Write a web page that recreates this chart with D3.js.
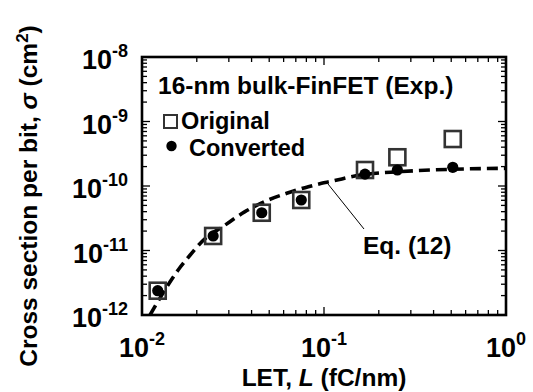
<!DOCTYPE html>
<html>
<head>
<meta charset="utf-8">
<script src="https://cdn.jsdelivr.net/npm/d3@7"></script>
<style>
  html, body { margin: 0; padding: 0; background: #fff; }
  text { font-family: "Liberation Sans", Arial, Helvetica, sans-serif; font-weight: bold; fill: #000; }
</style>
</head>
<body>
<svg id="chart" width="533" height="392"></svg>
<script>
// Measured LET (fC/nm) and cross sections per bit (cm^2)
const letValues      = [0.0122, 0.0246, 0.0455, 0.075, 0.168, 0.253, 0.51];
const originalSigma  = [2.38e-12, 1.68e-11, 3.85e-11, 6.07e-11, 1.77e-10, 2.79e-10, 5.35e-10];
const convertedSigma = [2.38e-12, 1.68e-11, 3.85e-11, 6.07e-11, 1.53e-10, 1.77e-10, 1.95e-10];

// Eq. (12) model curve, sampled
const eqLet   = [0.01107, 0.0139, 0.0158, 0.0184, 0.0213, 0.0286, 0.0368, 0.0494, 0.0624, 0.082, 0.097, 0.108, 0.158, 0.262, 0.514, 1];
const eqSigma = [1e-12, 2.92e-12, 4.99e-12, 8.51e-12, 1.37e-11, 2.48e-11, 4.0e-11, 6.07e-11, 7.7e-11, 9.75e-11, 1.10e-10, 1.17e-10, 1.48e-10, 1.67e-10, 1.82e-10, 1.88e-10];

// Axis tick labels (base, exponent)
const xTickValues = [1e-2, 1e-1, 1];
const xTickExps   = ["-2", "-1", "0"];
const yTickValues = [1e-12, 1e-11, 1e-10, 1e-9, 1e-8];
const yTickExps   = ["-12", "-11", "-10", "-9", "-8"];

const legendTitle = "16-nm bulk-FinFET (Exp.)";
const legendLabels = ["Original", "Converted"];
const eqLabel = "Eq. (12)";

const plot = { left: 142, right: 506, top: 57, bottom: 315 };

const svg = d3.select("#chart");
const x = d3.scaleLog().domain([1e-2, 1]).range([plot.left, plot.right]);
const y = d3.scaleLog().domain([1e-12, 1e-8]).range([plot.bottom, plot.top]);

// minor ticks for log axes
function logTicks(domain) {
  const out = [];
  const e0 = Math.round(Math.log10(domain[0])), e1 = Math.round(Math.log10(domain[1]));
  for (let e = e0; e < e1; e++) for (let m = 2; m <= 9; m++) out.push(m * Math.pow(10, e));
  return out;
}
const xMinor = logTicks(x.domain()), yMinor = logTicks(y.domain());

const majorLen = 8, minorLen = 5;
const ticks = svg.append("g").attr("stroke", "#000").attr("stroke-width", 1.3);
function vTicks(vals, len) {
  vals.forEach(v => {
    const px = x(v);
    ticks.append("line").attr("x1", px).attr("x2", px).attr("y1", plot.bottom).attr("y2", plot.bottom - len);
    ticks.append("line").attr("x1", px).attr("x2", px).attr("y1", plot.top).attr("y2", plot.top + len);
  });
}
function hTicks(vals, len) {
  vals.forEach(v => {
    const py = y(v);
    ticks.append("line").attr("y1", py).attr("y2", py).attr("x1", plot.left).attr("x2", plot.left + len);
    ticks.append("line").attr("y1", py).attr("y2", py).attr("x1", plot.right).attr("x2", plot.right - len);
  });
}
vTicks(xTickValues, majorLen); vTicks(xMinor, minorLen);
hTicks(yTickValues, majorLen); hTicks(yMinor, minorLen);

// Eq. (12) dashed curve
svg.append("clipPath").attr("id", "plotClip").append("rect")
  .attr("x", plot.left).attr("y", plot.top).attr("width", plot.right - plot.left).attr("height", plot.bottom - plot.top);
const line = d3.line().x(d => x(d[0])).y(d => y(d[1])).curve(d3.curveMonotoneX);
svg.append("path")
  .datum(eqLet.map((l, i) => [l, eqSigma[i]]))
  .attr("clip-path", "url(#plotClip)")
  .attr("d", line)
  .attr("fill", "none").attr("stroke", "#000").attr("stroke-width", 3.6)
  .attr("stroke-dasharray", "11,6");

// Original (open squares)
const sq = 16;
svg.append("g").selectAll("rect").data(letValues).join("rect")
  .attr("x", (d) => x(d) - sq / 2)
  .attr("y", (d, i) => y(originalSigma[i]) - sq / 2)
  .attr("width", sq).attr("height", sq)
  .attr("fill", "none").attr("stroke", "#333").attr("stroke-width", 2.6);

// Converted (filled circles)
svg.append("g").selectAll("circle").data(letValues).join("circle")
  .attr("cx", d => x(d))
  .attr("cy", (d, i) => y(convertedSigma[i]))
  .attr("r", 5.6).attr("fill", "#000");

// Frame
svg.append("rect")
  .attr("x", plot.left).attr("y", plot.top)
  .attr("width", plot.right - plot.left).attr("height", plot.bottom - plot.top)
  .attr("fill", "none").attr("stroke", "#000").attr("stroke-width", 2.6);

// Tick labels
const tfs = 27, sup = 18, fs = 24.5, lfs = 23.5;
xTickValues.forEach((v, i) => {
  const t = svg.append("text").attr("x", x(v)).attr("y", 357).attr("text-anchor", "middle").attr("font-size", tfs);
  t.append("tspan").text("10");
  t.append("tspan").attr("dy", -12).attr("font-size", sup).text(xTickExps[i]);
});
yTickValues.forEach((v, i) => {
  const t = svg.append("text").attr("x", 128).attr("y", y(v) + 12).attr("text-anchor", "end").attr("font-size", tfs);
  t.append("tspan").text("10");
  t.append("tspan").attr("dy", -12).attr("font-size", sup).text(yTickExps[i]);
});

// Axis titles
const xt = svg.append("text").attr("x", 324).attr("y", 386).attr("text-anchor", "middle").attr("font-size", fs);
xt.append("tspan").text("LET, ");
xt.append("tspan").attr("font-style", "italic").text("L");
xt.append("tspan").text(" (fC/nm)");

const yt = svg.append("text").attr("transform", "translate(37,196) rotate(-90)").attr("text-anchor", "middle").attr("font-size", fs);
yt.append("tspan").text("Cross section per bit, ");
yt.append("tspan").attr("font-style", "italic").text("σ");
yt.append("tspan").text(" (cm");
yt.append("tspan").attr("dy", -9).attr("font-size", sup - 1).text("2");
yt.append("tspan").attr("dy", 9).text(")");

// Legend
svg.append("text").attr("x", 158).attr("y", 94).attr("font-size", fs).text(legendTitle);
svg.append("rect").attr("x", 164).attr("y", 115).attr("width", 13).attr("height", 13)
  .attr("fill", "none").attr("stroke", "#333").attr("stroke-width", 2);
svg.append("text").attr("x", 181).attr("y", 129).attr("font-size", lfs).text(legendLabels[0]);
svg.append("circle").attr("cx", 171.5).attr("cy", 146).attr("r", 5.2).attr("fill", "#000");
svg.append("text").attr("x", 189).attr("y", 156).attr("font-size", lfs).text(legendLabels[1]);

// Eq. (12) annotation
svg.append("line").attr("x1", 328).attr("y1", 184).attr("x2", 364).attr("y2", 229)
  .attr("stroke", "#000").attr("stroke-width", 1);
svg.append("text").attr("x", 363).attr("y", 254).attr("font-size", fs).text(eqLabel);
</script>
</body>
</html>
